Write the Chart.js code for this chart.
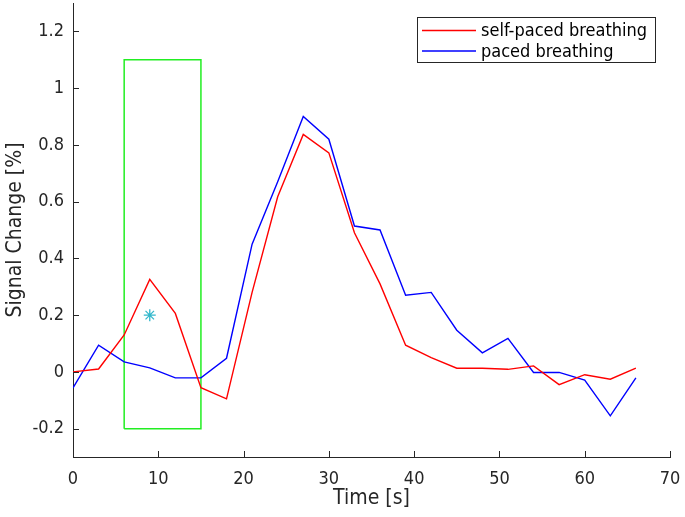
<!DOCTYPE html>
<html>
<head>
<meta charset="utf-8">
<script src="https://cdn.jsdelivr.net/npm/chart.js@4/dist/chart.umd.min.js"></script>
<style>
  html, body { margin: 0; padding: 0; background: #ffffff; }
  #wrap { width: 685px; height: 517px; position: relative; }
</style>
</head>
<body>
<div id="wrap"><canvas id="c" width="685" height="517"></canvas></div>
<script>
// ---- data ----
const time = [0, 3, 6, 9, 12, 15, 18, 21, 24, 27, 30, 33, 36, 39, 42, 45, 48, 51, 54, 57, 60, 63, 66];
const selfPaced = [0.00, 0.01, 0.13, 0.326, 0.206, -0.056, -0.095, 0.28, 0.617, 0.837, 0.772, 0.49, 0.31, 0.094, 0.05, 0.013, 0.013, 0.009, 0.021, -0.045, -0.01, -0.026, 0.013];
const paced = [-0.056, 0.094, 0.035, 0.014, -0.021, -0.021, 0.048, 0.45, 0.67, 0.90, 0.82, 0.514, 0.50, 0.27, 0.28, 0.147, 0.067, 0.118, -0.002, -0.002, -0.029, -0.155, -0.021];
const boxX = [6, 6, 15, 15, 6];
const boxY = [-0.2, 1.1, 1.1, -0.2, -0.2];
const markerX = [9];
const markerY = [0.2];
const xTicks = [0, 10, 20, 30, 40, 50, 60, 70];
const yTicks = [-0.2, 0, 0.2, 0.4, 0.6, 0.8, 1, 1.2];
const seriesLabels = ['self-paced breathing', 'paced breathing'];

const toPts = (xs, ys) => xs.map((x, i) => ({ x: x, y: ys[i] }));

const FONT = '"DejaVu Sans Condensed", "DejaVu Sans", sans-serif';
const AXIS = '#262626';

// inward ticks (MATLAB style) + legend box
const extras = {
  id: 'extras',
  afterDraw(chart) {
    const ctx = chart.ctx;
    const xs = chart.scales.x, ys = chart.scales.y;
    const a = chart.chartArea;
    ctx.save();
    ctx.strokeStyle = AXIS;
    ctx.lineWidth = 1;
    ctx.beginPath();
    xTicks.forEach(v => {
      const px = Math.round(xs.getPixelForValue(v)) + 0.5;
      ctx.moveTo(px, a.bottom);
      ctx.lineTo(px, a.bottom - 6);
    });
    yTicks.forEach(v => {
      const py = Math.round(ys.getPixelForValue(v)) + 0.5;
      ctx.moveTo(a.left, py);
      ctx.lineTo(a.left + 6, py);
    });
    ctx.stroke();

    // legend
    const lx = 417, ly = 17, lw = 238, lh = 45;
    ctx.fillStyle = '#ffffff';
    ctx.fillRect(lx, ly, lw, lh);
    ctx.strokeStyle = '#262626';
    ctx.lineWidth = 1;
    ctx.strokeRect(lx + 0.5, ly + 0.5, lw, lh);
    const ds = chart.data.datasets;
    const rows = [ly + 13.5, ly + 34];
    ctx.font = '18px ' + FONT;
    ctx.textBaseline = 'middle';
    ctx.textAlign = 'left';
    [0, 1].forEach(i => {
      ctx.strokeStyle = ds[i].borderColor;
      ctx.lineWidth = 1.3;
      ctx.beginPath();
      ctx.moveTo(lx + 5, rows[i]);
      ctx.lineTo(lx + 59, rows[i]);
      ctx.stroke();
      ctx.fillStyle = '#000000';
      ctx.fillText(ds[i].label, lx + 64, rows[i] + 1);
    });
    ctx.restore();
  }
};

new Chart(document.getElementById('c'), {
  type: 'scatter',
  data: {
    datasets: [
      { label: seriesLabels[0], data: toPts(time, selfPaced), showLine: true, borderColor: '#ff0000', borderWidth: 1.4, pointRadius: 0, fill: false, tension: 0 },
      { label: seriesLabels[1], data: toPts(time, paced), showLine: true, borderColor: '#0000ff', borderWidth: 1.4, pointRadius: 0, fill: false, tension: 0 },
      { label: 'window', data: toPts(boxX, boxY), showLine: true, borderColor: '#22ee22', borderWidth: 1.5, pointRadius: 0, fill: false, tension: 0 },
      { label: 'sig', data: toPts(markerX, markerY), showLine: false, pointStyle: 'star', pointRadius: 6, borderColor: '#33b8cc', backgroundColor: '#33b8cc', pointBorderWidth: 1.3 }
    ]
  },
  options: {
    responsive: false,
    animation: false,
    devicePixelRatio: 1,
    layout: { autoPadding: false, padding: { top: 3, right: 15, left: 0, bottom: 0 } },
    plugins: { legend: { display: false }, tooltip: { enabled: false } },
    scales: {
      x: {
        type: 'linear', min: 0, max: 70,
        afterBuildTicks: s => { s.ticks = xTicks.map(v => ({ value: v })); },
        afterFit: s => { s.height = 60; s.paddingLeft = 0; s.paddingRight = 0; },
        grid: { display: true, drawOnChartArea: false, drawTicks: false },
        border: { display: true, color: AXIS, width: 1 },
        ticks: { color: AXIS, font: { family: FONT, size: 18 }, padding: 12, maxRotation: 0, callback: v => String(v) },
        title: { display: true, text: 'Time [s]', color: AXIS, font: { family: FONT, size: 21 }, padding: { top: 0, bottom: 6 } }
      },
      y: {
        type: 'linear', min: -0.3, max: 1.3,
        afterBuildTicks: s => { s.ticks = yTicks.map(v => ({ value: v })); },
        afterFit: s => { s.width = 73; s.paddingTop = 0; s.paddingBottom = 0; },
        grid: { display: true, drawOnChartArea: false, drawTicks: false },
        border: { display: true, color: AXIS, width: 1 },
        ticks: { color: AXIS, font: { family: FONT, size: 18 }, padding: 9, callback: v => String(Math.round(v * 10) / 10) },
        title: { display: true, text: 'Signal Change [%]', color: AXIS, font: { family: FONT, size: 21 }, padding: { top: 3, bottom: 0 } }
      }
    }
  },
  plugins: [extras]
});
</script>
</body>
</html>
